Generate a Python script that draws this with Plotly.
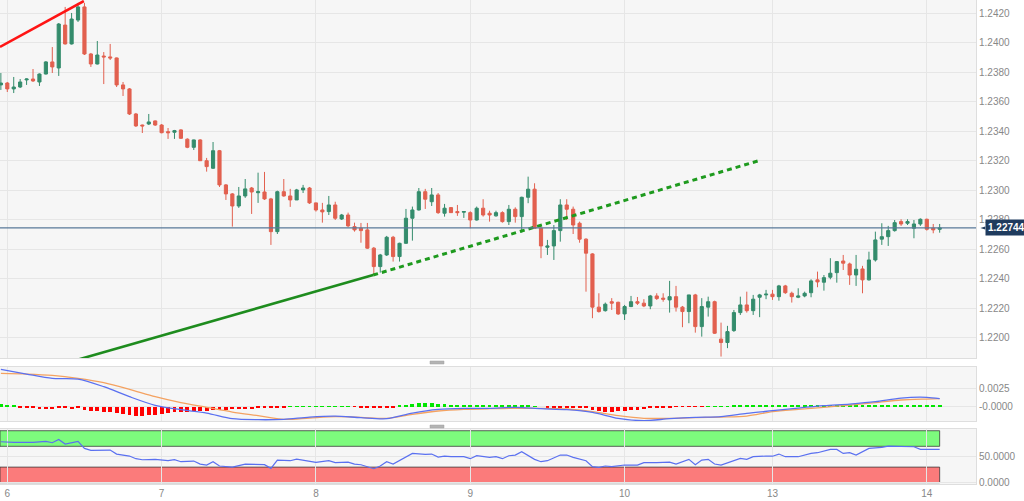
import plotly.graph_objects as go

# ---------------- data ----------------
hours = list(range(-1, 146))  # hourly candle index, 0 = day 6 00:00

opens = [1.23714, 1.23727, 1.23687, 1.23700, 1.23748, 1.23754, 1.23734, 1.23788, 1.23870, 1.23829,
         1.24120, 1.23992, 1.24154, 1.24243, 1.23924, 1.23856, 1.23910, 1.23904, 1.23897, 1.23714,
         1.23687, 1.23517, 1.23442, 1.23449, 1.23470, 1.23442, 1.23397, 1.23393, 1.23409, 1.23346,
         1.23291, 1.23341, 1.23200, 1.23149, 1.23268, 1.23036, 1.22975, 1.22893, 1.22961, 1.23015,
         1.22983, 1.22988, 1.22941, 1.22719, 1.22990, 1.22961, 1.22934, 1.23002, 1.23015, 1.22914,
         1.22866, 1.22855, 1.22900, 1.22805, 1.22832, 1.22753, 1.22742, 1.22731, 1.22607, 1.22482,
         1.22561, 1.22681, 1.22550, 1.22640, 1.22810, 1.22866, 1.22990, 1.22922, 1.22968, 1.22844,
         1.22882, 1.22855, 1.22851, 1.22848, 1.22798, 1.22878, 1.22844, 1.22826, 1.22848, 1.22787,
         1.22871, 1.22821, 1.22952, 1.23007, 1.22742, 1.22613, 1.22622, 1.22726, 1.22900, 1.22871,
         1.22776, 1.22668, 1.22568, 1.22207, 1.22183, 1.22244, 1.22240, 1.22161, 1.22211, 1.22244,
         1.22234, 1.22215, 1.22283, 1.22268, 1.22256, 1.22278, 1.22207, 1.22177, 1.22290, 1.22075,
         1.22207, 1.22244, 1.21990, 1.21967, 1.22048, 1.22170, 1.22222, 1.22183, 1.22274, 1.22290,
         1.22295, 1.22278, 1.22351, 1.22301, 1.22274, 1.22283, 1.22305, 1.22392, 1.22376, 1.22410,
         1.22441, 1.22520, 1.22500, 1.22425, 1.22466, 1.22392, 1.22527, 1.22668, 1.22685, 1.22726,
         1.22787, 1.22776, 1.22742, 1.22771, 1.22803, 1.22742, 1.22735]
highs = [1.23795, 1.23734, 1.23768, 1.23754, 1.23758, 1.23822, 1.23792, 1.23876, 1.23971, 1.24134,
         1.24243, 1.24202, 1.24270, 1.24270, 1.23931, 1.24012, 1.23937, 1.23992, 1.23900, 1.23734,
         1.23693, 1.23524, 1.23445, 1.23517, 1.23473, 1.23449, 1.23422, 1.23409, 1.23414, 1.23352,
         1.23343, 1.23346, 1.23219, 1.23327, 1.23273, 1.23042, 1.22981, 1.23022, 1.23076, 1.23022,
         1.23119, 1.23124, 1.22948, 1.22997, 1.23076, 1.23009, 1.23009, 1.23036, 1.23022, 1.22916,
         1.22914, 1.22961, 1.22922, 1.22839, 1.22848, 1.22780, 1.22778, 1.22778, 1.22615, 1.22568,
         1.22690, 1.22690, 1.22644, 1.22873, 1.22889, 1.23015, 1.23009, 1.23015, 1.22981, 1.22907,
         1.22886, 1.22900, 1.22857, 1.22857, 1.22889, 1.22939, 1.22861, 1.22861, 1.22857, 1.22900,
         1.22884, 1.22956, 1.23092, 1.23047, 1.22749, 1.22663, 1.22764, 1.22939, 1.22939, 1.22889,
         1.22787, 1.22674, 1.22573, 1.22301, 1.22238, 1.22268, 1.22244, 1.22222, 1.22283, 1.22276,
         1.22261, 1.22290, 1.22301, 1.22301, 1.22385, 1.22351, 1.22215, 1.22290, 1.22297, 1.22268,
         1.22278, 1.22251, 1.22102, 1.22080, 1.22188, 1.22278, 1.22312, 1.22290, 1.22297, 1.22324,
         1.22324, 1.22358, 1.22358, 1.22312, 1.22335, 1.22312, 1.22396, 1.22448, 1.22425, 1.22539,
         1.22520, 1.22561, 1.22509, 1.22561, 1.22487, 1.22583, 1.22719, 1.22776, 1.22758, 1.22798,
         1.22803, 1.22803, 1.22798, 1.22809, 1.22807, 1.22771, 1.22771]
lows = [1.23680, 1.23666, 1.23659, 1.23693, 1.23714, 1.23734, 1.23707, 1.23785, 1.23795, 1.23775,
        1.23988, 1.23988, 1.24141, 1.23917, 1.23836, 1.23853, 1.23720, 1.23883, 1.23700, 1.23639,
        1.23510, 1.23429, 1.23388, 1.23442, 1.23436, 1.23386, 1.23348, 1.23348, 1.23348, 1.23285,
        1.23273, 1.23200, 1.23126, 1.23144, 1.23022, 1.22934, 1.22753, 1.22880, 1.22948, 1.22839,
        1.22914, 1.22934, 1.22629, 1.22703, 1.22956, 1.22887, 1.22934, 1.22981, 1.22907, 1.22855,
        1.22780, 1.22832, 1.22798, 1.22798, 1.22749, 1.22719, 1.22644, 1.22602, 1.22425, 1.22441,
        1.22554, 1.22516, 1.22516, 1.22636, 1.22658, 1.22862, 1.22873, 1.22893, 1.22839, 1.22821,
        1.22846, 1.22826, 1.22812, 1.22742, 1.22794, 1.22821, 1.22787, 1.22821, 1.22780, 1.22764,
        1.22780, 1.22712, 1.22912, 1.22742, 1.22539, 1.22561, 1.22527, 1.22651, 1.22798, 1.22703,
        1.22644, 1.22312, 1.22132, 1.22170, 1.22177, 1.22188, 1.22154, 1.22120, 1.22207, 1.22222,
        1.22207, 1.22193, 1.22256, 1.22244, 1.22170, 1.22177, 1.22071, 1.22098, 1.22034, 1.22007,
        1.22143, 1.22025, 1.21872, 1.21929, 1.22039, 1.22154, 1.22170, 1.22154, 1.22139, 1.22261,
        1.22256, 1.22251, 1.22297, 1.22238, 1.22268, 1.22274, 1.22274, 1.22342, 1.22319, 1.22396,
        1.22373, 1.22459, 1.22358, 1.22351, 1.22301, 1.22387, 1.22516, 1.22629, 1.22622, 1.22719,
        1.22758, 1.22764, 1.22674, 1.22758, 1.22726, 1.22708, 1.22712]
closes = [1.23727, 1.23687, 1.23700, 1.23734, 1.23754, 1.23741, 1.23788, 1.23870, 1.23836, 1.24127,
          1.23992, 1.24161, 1.24243, 1.23924, 1.23856, 1.23917, 1.23904, 1.23897, 1.23714, 1.23687,
          1.23517, 1.23436, 1.23436, 1.23463, 1.23442, 1.23390, 1.23390, 1.23404, 1.23352, 1.23291,
          1.23341, 1.23200, 1.23160, 1.23268, 1.23036, 1.22975, 1.22893, 1.22961, 1.23009, 1.22988,
          1.22990, 1.22941, 1.22719, 1.22990, 1.22961, 1.22934, 1.23002, 1.23015, 1.22914, 1.22866,
          1.22853, 1.22900, 1.22810, 1.22832, 1.22758, 1.22731, 1.22726, 1.22607, 1.22482, 1.22561,
          1.22681, 1.22550, 1.22640, 1.22810, 1.22866, 1.22990, 1.22939, 1.22968, 1.22848, 1.22878,
          1.22848, 1.22848, 1.22855, 1.22798, 1.22878, 1.22832, 1.22832, 1.22848, 1.22787, 1.22871,
          1.22821, 1.22952, 1.23007, 1.22742, 1.22622, 1.22622, 1.22726, 1.22900, 1.22871, 1.22764,
          1.22668, 1.22573, 1.22207, 1.22177, 1.22227, 1.22234, 1.22161, 1.22211, 1.22244, 1.22234,
          1.22215, 1.22283, 1.22265, 1.22261, 1.22278, 1.22207, 1.22177, 1.22290, 1.22075, 1.22211,
          1.22244, 1.22030, 1.21967, 1.22041, 1.22170, 1.22222, 1.22183, 1.22261, 1.22290, 1.22295,
          1.22278, 1.22351, 1.22305, 1.22278, 1.22283, 1.22301, 1.22385, 1.22378, 1.22407, 1.22437,
          1.22516, 1.22505, 1.22425, 1.22464, 1.22392, 1.22527, 1.22663, 1.22685, 1.22726, 1.22780,
          1.22771, 1.22787, 1.22771, 1.22803, 1.22735, 1.22731, 1.22744]

day_ticks = [0, 24, 48, 72, 96, 119, 143]
day_labels = ["6", "7", "8", "9", "10", "13", "14"]
price_ticks = [1.2200, 1.2220, 1.2240, 1.2260, 1.2280, 1.2300, 1.2320, 1.2340, 1.2360, 1.2380, 1.2400, 1.2420]
last_price = 1.22744

# MACD histogram (one per candle)
macd_hist = [0.00040, 0.00015, 0.00010, -0.00005, -0.00015, -0.00025, -0.00030, -0.00030, -0.00030, -0.00025,
             -0.00025, -0.00030, -0.00025, -0.00040, -0.00055, -0.00060, -0.00070, -0.00080, -0.00090, -0.00100,
             -0.00110, -0.00125, -0.00125, -0.00120, -0.00110, -0.00100, -0.00090, -0.00080, -0.00075, -0.00070,
             -0.00065, -0.00060, -0.00055, -0.00050, -0.00045, -0.00040, -0.00035, -0.00035, -0.00030, -0.00030,
             -0.00025, -0.00025, -0.00020, -0.00010, -0.00005, 0.00005, 0.00005, 0.00007, 0.00007, 0.00005,
             0.00005, 0.00005, 0.00004, 0.00003, 0.00003, -0.00003, -0.00005, -0.00010, -0.00010, -0.00010,
             -0.00010, -0.00005, 0.00010, 0.00025, 0.00040, 0.00045, 0.00045, 0.00045, 0.00040, 0.00035,
             0.00030, 0.00030, 0.00025, 0.00025, 0.00020, 0.00020, 0.00015, 0.00015, 0.00015, 0.00010,
             0.00010, 0.00010, 0.00015, 0.00005, 0.00000, -0.00005, -0.00005, -0.00005, -0.00005, -0.00010,
             -0.00010, -0.00020, -0.00040, -0.00060, -0.00070, -0.00070, -0.00065, -0.00060, -0.00050, -0.00040,
             -0.00030, -0.00020, -0.00015, -0.00010, -0.00005, -0.00003, -0.00003, -0.00003, -0.00003, -0.00003,
             0.00003, 0.00003, 0.00003, 0.00005, 0.00010, 0.00020, 0.00025, 0.00030, 0.00030, 0.00030,
             0.00030, 0.00030, 0.00030, 0.00030, 0.00030, 0.00025, 0.00025, 0.00025, 0.00025, 0.00025,
             0.00025, 0.00020, 0.00015, 0.00010, 0.00010, 0.00010, 0.00010, 0.00010, 0.00010, 0.00010,
             0.00010, 0.00010, 0.00010, 0.00010, 0.00010, 0.00010, 0.00010]

macd_x = [-1, 3, 7, 11, 15, 19, 23, 27, 31, 35, 39, 43, 47, 51, 55, 59, 63, 67, 71, 75,
          79, 83, 87, 91, 95, 99, 103, 107, 111, 115, 119, 123, 127, 131, 135, 139, 143, 145]
macd_line = [0.00519, 0.00454, 0.00394, 0.00384, 0.00278, 0.00139, 0.00019, -0.00042, -0.00088, -0.00167,
             -0.00181, -0.00176, -0.00144, -0.00130, -0.00153, -0.00167, -0.00088, -0.00037, -0.00023, -0.00023,
             -0.00009, -0.00028, -0.00042, -0.00079, -0.00162, -0.00194, -0.00167, -0.00148, -0.00139, -0.00093,
             -0.00056, -0.00019, 0.00014, 0.00037, 0.00069, 0.00120, 0.00130, 0.00111]
signal_line = [0.00463, 0.00454, 0.00435, 0.00394, 0.00333, 0.00241, 0.00139, 0.00056, -0.00009, -0.00074,
               -0.00125, -0.00176, -0.00157, -0.00139, -0.00148, -0.00162, -0.00106, -0.00060, -0.00037, -0.00028,
               -0.00023, -0.00023, -0.00032, -0.00069, -0.00125, -0.00162, -0.00162, -0.00153, -0.00144, -0.00130,
               -0.00069, -0.00037, -0.00009, 0.00023, 0.00056, 0.00093, 0.00106, 0.00111]

rsi_x = [-1, 1, 4, 6, 7, 8, 9, 10, 11, 12, 13, 16, 17, 19, 20, 21, 23, 25, 26, 27,
         29, 30, 31, 32, 33, 35, 37, 40, 41, 42, 44, 45, 47, 48, 50, 51, 53, 54, 55, 57,
         58, 59, 60, 62, 63, 65, 66, 67, 68, 69, 71, 72, 73, 75, 76, 77, 78, 79, 80, 82,
         83, 84, 86, 87, 88, 90, 91, 92, 93, 94, 95, 96, 98, 99, 101, 103, 104, 106, 107, 108,
         109, 110, 111, 113, 114, 115, 116, 118, 119, 120, 121, 123, 125, 126, 128, 129, 130, 131, 132, 134,
         136, 137, 139, 141, 142, 145]
rsi_vals = [78.8, 77.6, 77.6, 79.5, 76.9, 83.3, 74.4, 76.9, 79.5, 66.0, 62.2, 62.8, 55.1, 51.3, 46.2, 44.2, 44.9, 42.3, 44.2, 40.4,
            41.7, 35.9, 34.0, 40.4, 32.1, 30.1, 35.9, 34.6, 27.6, 43.6, 42.3, 45.5, 40.4, 39.1, 42.3, 38.5, 39.7, 35.9, 34.6, 26.9,
            32.1, 40.4, 35.9, 50.0, 56.4, 54.5, 55.1, 49.4, 51.3, 50.0, 50.0, 46.2, 51.9, 48.7, 50.0, 46.2, 51.9, 53.2, 59.6, 44.9,
            40.4, 42.3, 53.2, 53.2, 48.7, 42.3, 30.8, 29.5, 32.1, 30.8, 32.1, 34.0, 34.0, 38.5, 38.5, 39.7, 35.9, 44.9, 34.6, 43.6,
            44.9, 35.9, 34.0, 41.7, 46.8, 44.9, 50.0, 51.3, 51.0, 55.1, 50.0, 50.0, 56.4, 57.7, 64.1, 64.1, 56.4, 57.7, 53.2, 66.0,
            67.9, 70.5, 70.5, 69.2, 64.1, 64.1]

# trend lines (hour index, price)
red_line_x = [-1.14, 11.9]
red_line_y = [1.23972, 1.24283]
green_solid_x = [0.0, 56.9]
green_solid_y = [1.21714, 1.22425]
green_dot_x = [56.9, 116.7]
green_dot_y = [1.22425, 1.23198]

# ---------------- style ----------------
UP = "#348c6c"
DOWN = "#e2604f"
GRID = "#e6e6e6"
BORDER = "#dedede"
TICKFONT = dict(family="Liberation Sans, Arial, sans-serif", size=10, color="#888888")
XR = [-1.135, 150.65]

fig = go.Figure()

fig.add_trace(go.Candlestick(
    x=hours, open=opens, high=highs, low=lows, close=closes,
    increasing=dict(line=dict(color=UP, width=1), fillcolor=UP),
    decreasing=dict(line=dict(color=DOWN, width=1), fillcolor=DOWN),
    whiskerwidth=0, xaxis="x", yaxis="y", hoverinfo="skip", showlegend=False))

fig.add_trace(go.Scatter(x=red_line_x, y=red_line_y, mode="lines",
                         line=dict(color="#ff1414", width=2.6), xaxis="x", yaxis="y", hoverinfo="skip"))
fig.add_trace(go.Scatter(x=green_solid_x, y=green_solid_y, mode="lines",
                         line=dict(color="#1e8c1e", width=2.6), xaxis="x", yaxis="y", hoverinfo="skip"))
fig.add_trace(go.Scatter(x=green_dot_x, y=green_dot_y, mode="lines",
                         line=dict(color="#1e9a1e", width=3, dash="5px,4px"), xaxis="x", yaxis="y", hoverinfo="skip"))

hist_colors = ["#00e600" if v >= 0 else "#ff0000" for v in macd_hist]
fig.add_trace(go.Bar(x=hours, y=macd_hist, marker=dict(color=hist_colors, line=dict(width=0)),
                     width=0.6, xaxis="x2", yaxis="y2", hoverinfo="skip"))
fig.add_trace(go.Scatter(x=macd_x, y=signal_line, mode="lines",
                         line=dict(color="#f4a261", width=1.3, shape="spline", smoothing=0.8),
                         xaxis="x2", yaxis="y2", hoverinfo="skip"))
fig.add_trace(go.Scatter(x=macd_x, y=macd_line, mode="lines",
                         line=dict(color="#5a70f0", width=1.3, shape="spline", smoothing=0.8),
                         xaxis="x2", yaxis="y2", hoverinfo="skip"))

fig.add_trace(go.Scatter(x=rsi_x, y=rsi_vals, mode="lines",
                         line=dict(color="#5a70f0", width=1.2),
                         xaxis="x3", yaxis="y3", hoverinfo="skip"))

common_x = dict(range=XR, tickvals=day_ticks, ticktext=day_labels, showgrid=True, gridcolor=GRID,
                zeroline=False, showline=True, mirror=True, linecolor=BORDER, ticks="", tickfont=TICKFONT)

shapes = [
    # last price line
    dict(type="line", xref="x", yref="y", x0=XR[0], x1=XR[1], y0=last_price, y1=last_price,
         line=dict(color="#587899", width=1.2), layer="above"),
    # RSI bands
    dict(type="rect", xref="x3", yref="y3", x0=XR[0], x1=145, y0=70, y1=100,
         fillcolor="#7dfb7d", line=dict(color="rgba(50,50,50,0.75)", width=1), layer="below"),
    dict(type="rect", xref="x3", yref="y3", x0=XR[0], x1=145, y0=0, y1=30,
         fillcolor="#fb7b7b", line=dict(color="rgba(50,50,50,0.75)", width=1), layer="below"),
    # panel separator handles
    dict(type="rect", xref="paper", yref="paper", x0=0.4406, x1=0.4549, y0=0.2479, y1=0.2541,
         fillcolor="#b4b4b4", line=dict(color="#a0a0a0", width=0.5)),
    dict(type="rect", xref="paper", yref="paper", x0=0.4406, x1=0.4549, y0=0.1157, y1=0.1219,
         fillcolor="#b4b4b4", line=dict(color="#a0a0a0", width=0.5)),
    # price label pointer
    dict(type="path", xref="paper", yref="y", path="M 1.0045 1.22744 L 1.0095 1.22754 L 1.0095 1.22734 Z",
         fillcolor="#1f3b5e", line=dict(width=0)),
]

fig.update_layout(
    width=1024, height=501,
    margin=dict(l=0, r=48, t=0, b=17),
    paper_bgcolor="white", plot_bgcolor="#f6f6f6",
    showlegend=False, bargap=0,
    xaxis=dict(domain=[0, 1], anchor="y", showticklabels=False, rangeslider=dict(visible=False), **common_x),
    xaxis2=dict(domain=[0, 1], anchor="y2", matches="x", showticklabels=False, **common_x),
    xaxis3=dict(domain=[0, 1], anchor="y3", matches="x", showticklabels=True, **common_x),
    yaxis=dict(domain=[0.2603, 1], anchor="x", side="right", range=[1.21862, 1.24290],
               tickvals=price_ticks, tickformat=".4f", gridcolor=GRID, zeroline=False,
               showline=True, mirror=True, linecolor=BORDER, ticks="", tickfont=TICKFONT),
    yaxis2=dict(domain=[0.1302, 0.2417], anchor="x2", side="right", range=[-0.001986, 0.005514],
                tickvals=[0, 0.0025], ticktext=["-0.0000", "0.0025"], gridcolor=GRID, zeroline=False,
                showline=True, mirror=True, linecolor=BORDER, ticks="", tickfont=TICKFONT),
    yaxis3=dict(domain=[0, 0.1136], anchor="x3", side="right", range=[-2.5, 103.3],
                tickvals=[0, 50], ticktext=["0.0000", "50.0000"], gridcolor=GRID, zeroline=False,
                showline=True, mirror=True, linecolor=BORDER, ticks="", tickfont=TICKFONT),
    shapes=shapes,
    annotations=[dict(xref="paper", yref="y", x=1.0095, y=last_price, xanchor="left", yanchor="middle",
                      text="<b>1.22744</b>", showarrow=False, bgcolor="#1f3b5e", borderpad=2,
                      font=dict(family="Liberation Sans, Arial, sans-serif", size=10, color="white"))],
)

fig.write_html("out.html",
               config={"displayModeBar": False},
               post_script="document.body.style.margin='0';document.body.style.padding='0';")
